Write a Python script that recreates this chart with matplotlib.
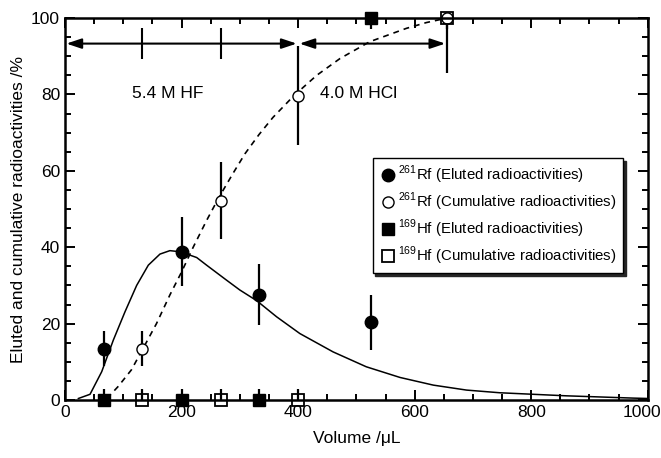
import matplotlib.pyplot as plt
import matplotlib.transforms as mtransforms
import numpy as np

plt.rcParams['font.family'] = ['Liberation Sans', 'DejaVu Sans']
plt.rcParams['mathtext.fontset'] = 'custom'
plt.rcParams['mathtext.rm'] = 'Liberation Sans'

# 261Rf eluted
rf_el_x = [67, 200, 333, 525]
rf_el_y = [13.4, 38.8, 27.6, 20.4]
rf_el_err = [4.6, 9.0, 8.0, 7.2]

# 261Rf cumulative
rf_cu_x = [133, 267, 400, 655]
rf_cu_y = [13.4, 52.2, 79.7, 100]
rf_cu_err = [4.6, 10.0, 13.0, 14.5]

# 169Hf eluted
hf_el_x = [67, 200, 333, 525]
hf_el_y = [0, 0, 0, 100]
hf_el_err = [3, 3, 3, 3]

# 169Hf cumulative
hf_cu_x = [133, 267, 400, 655]
hf_cu_y = [0, 0, 0, 100]
hf_cu_err = [3, 3, 3, 3]

# fitted elution curve (solid)
fit_x = [23, 43, 63, 83, 103, 123, 143, 163, 180, 198, 226, 243, 277, 300, 329, 363,
         403, 460, 517, 575, 632, 689, 746, 803, 860, 918, 975, 1000]
fit_y = [0.4, 1.5, 7.4, 15.7, 23.1, 30.0, 35.3, 38.2, 39.1, 38.8, 37.3, 35.3, 31.4,
         28.8, 26.0, 21.8, 17.4, 12.6, 8.7, 5.9, 3.9, 2.6, 1.9, 1.5, 1.1, 0.8, 0.5, 0.4]

# cumulative curve (dashed)
cum_x = [72, 91, 114, 134, 157, 180, 200, 220, 243, 264, 289, 309, 333, 357, 393,
         432, 472, 523, 586, 620, 650]
cum_y = [0.4, 3.5, 7.9, 13.5, 20.0, 27.5, 33.5, 40.0, 47.0, 53.0, 59.5, 64.5, 69.5,
         74.0, 79.7, 85.0, 89.4, 93.8, 97.3, 98.8, 99.8]

eluent_edges = [0, 400, 655]
fraction_marks = [133, 267]
eluent_names = ['5.4 M HF', '4.0 M HCl']

fig = plt.figure(figsize=(6.61, 4.58), dpi=100)
ax = fig.add_axes([0.0983, 0.1266, 0.8817, 0.8341])

ax.plot(fit_x, fit_y, color='black', lw=1.1)
ax.plot(cum_x, cum_y, color='black', lw=1.2, ls=(0, (3.5, 3)))

for xs, ys, es in [(rf_el_x, rf_el_y, rf_el_err), (rf_cu_x, rf_cu_y, rf_cu_err),
                   (hf_el_x, hf_el_y, hf_el_err), (hf_cu_x, hf_cu_y, hf_cu_err)]:
    ax.errorbar(xs, ys, yerr=es, fmt='none', ecolor='black', elinewidth=1.6, capsize=0)

ax.plot(rf_el_x, rf_el_y, 'o', color='black', ms=9, ls='none', clip_on=False,
        label=r'$^{\mathrm{261}}$Rf (Eluted radioactivities)')
ax.plot(rf_cu_x, rf_cu_y, 'o', mfc='white', mec='black', mew=1.0, ms=8, ls='none',
        clip_on=False, label=r'$^{\mathrm{261}}$Rf (Cumulative radioactivities)')
ax.plot(hf_el_x, hf_el_y, 's', color='black', ms=9, ls='none', clip_on=False,
        label=r'$^{\mathrm{169}}$Hf (Eluted radioactivities)')
ax.plot(hf_cu_x, hf_cu_y, 's', mfc='none', mec='black', mew=1.3, ms=9, ls='none',
        clip_on=False, label=r'$^{\mathrm{169}}$Hf (Cumulative radioactivities)')

# eluent arrows
arrow_y = 93.3
for i in range(2):
    ax.annotate('', xy=(eluent_edges[i], arrow_y), xytext=(eluent_edges[i + 1], arrow_y),
                arrowprops=dict(arrowstyle='<|-|>,head_length=0.9,head_width=0.3',
                                color='black', lw=1.5, shrinkA=1, shrinkB=1))
    ax.text((eluent_edges[i] + eluent_edges[i + 1]) / 2 - 24, 80.3, eluent_names[i],
            fontsize=12.5, ha='center', va='center')
ax.vlines(fraction_marks, 89.3, 97.3, color='black', lw=1.5)

ax.set_xlim(0, 1000)
ax.set_ylim(0, 100)
ax.set_xticks(range(0, 1001, 200))
ax.set_xticks(range(0, 1001, 50), minor=True)
ax.set_yticks(range(0, 101, 20))
ax.set_yticks(range(0, 101, 5), minor=True)
ax.tick_params(which='both', direction='in', top=True, right=True, labelsize=12.5, width=1.4)
ax.tick_params(which='major', length=7)
ax.tick_params(which='minor', length=4)
for s in ax.spines.values():
    s.set_linewidth(1.8)

# pull the last x label a little inside the figure
last = ax.get_xticklabels()[-1]
last.set_transform(last.get_transform() + mtransforms.ScaledTranslation(-6 / 100, 0, fig.dpi_scale_trans))

ax.set_xlabel('Volume /μL', fontsize=12.5, labelpad=8)
ax.set_ylabel('Eluted and cumulative radioactivities /%', fontsize=12.5, labelpad=4)

leg = ax.legend(loc='upper left', bbox_to_anchor=(0.528, 0.634), fontsize=10.8,
                frameon=True, fancybox=False,
                shadow={'facecolor': '0.15', 'edgecolor': '0.15', 'alpha': 1},
                edgecolor='black', framealpha=1, handletextpad=0.1, handlelength=1.2,
                borderpad=0.42, labelspacing=0.3, borderaxespad=0)
leg.get_frame().set_linewidth(1.0)

plt.savefig('out.png', dpi=100)
